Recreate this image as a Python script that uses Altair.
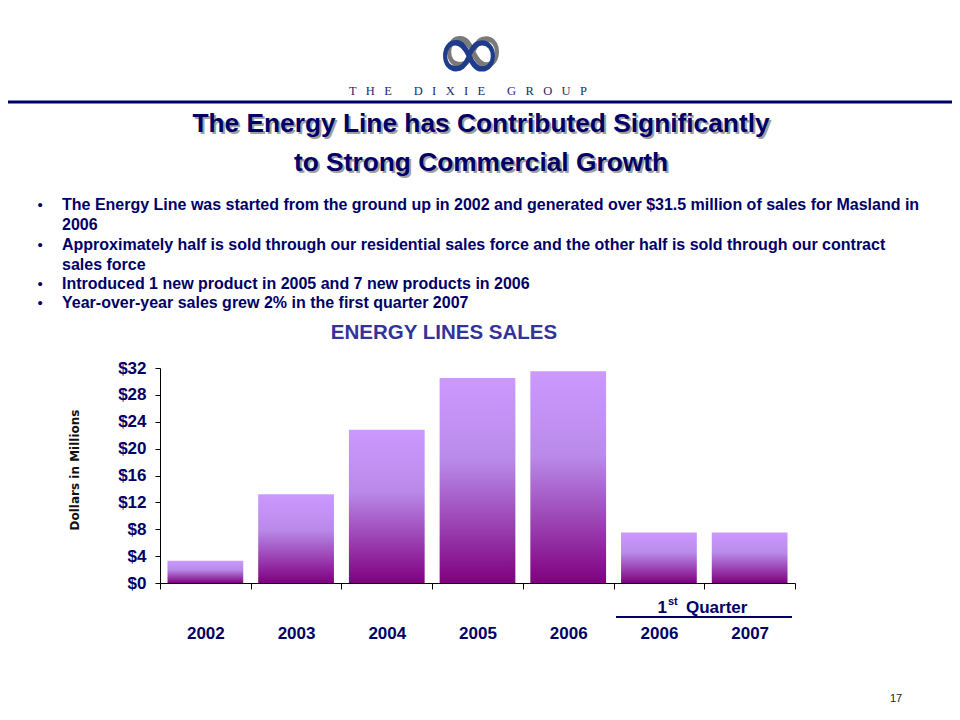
import altair as alt
import pandas as pd

# ---------------- data ----------------
categories = ["2002", "2003", "2004", "2005", "2006", "Q1 2006", "Q1 2007"]
sales = [3.3, 13.2, 22.8, 30.5, 31.5, 7.5, 7.5]
y_ticks = [0, 4, 8, 12, 16, 20, 24, 28, 32]

title_lines = ["The Energy Line has Contributed Significantly",
               "to Strong Commercial Growth"]
bullet_lines = [
    "The Energy Line was started from the ground up in 2002 and generated over $31.5 million of sales for Masland in",
    "2006",
    "Approximately half is sold through our residential sales force and the other half is sold through our contract",
    "sales force",
    "Introduced 1 new product in 2005 and 7 new products in 2006",
    "Year-over-year sales grew 2% in the first quarter 2007",
]
bullet_flags = [True, False, True, False, True, True]
chart_title = "ENERGY LINES SALES"
y_title = "Dollars in Millions"
company_letters = ["THE", "DIXIE", "GROUP"]
quarter_label = ["1", "st", "Quarter"]
page_number = "17"

df = pd.DataFrame({"category": categories, "sales": sales})

# ---------------- style ----------------
W, H = 635, 215
NAVY = "#000066"
FONT = "Liberation Sans"

gradient = alt.Gradient(
    gradient="linear",
    stops=[alt.GradientStop(color="#cc99ff", offset=0),
           alt.GradientStop(color="#b98aea", offset=0.4),
           alt.GradientStop(color="#800080", offset=1)],
    x1=0, x2=0, y1=0, y2=1,
)

bars = alt.Chart(df).mark_bar(color=gradient, width=alt.RelativeBandSize(0.835)).encode(
    x=alt.X("category:N", sort=categories,
            scale=alt.Scale(paddingInner=0, paddingOuter=0),
            axis=alt.Axis(title=None, labelExpr="replace(datum.label, 'Q1 ', '')",
                          labelAngle=0, tickBand="extent", tickSize=6, labelPadding=36,
                          labelFont=FONT, labelFontSize=17, labelFontWeight="bold",
                          labelColor=NAVY, domainColor="black", tickColor="black")),
    y=alt.Y("sales:Q", scale=alt.Scale(domain=[0, 32], nice=False),
            axis=alt.Axis(title=None, values=y_ticks, labelExpr="'$' + datum.value",
                          grid=False, tickSize=5, labelPadding=9,
                          labelFont=FONT, labelFontSize=17, labelFontWeight="bold",
                          labelColor=NAVY, domainColor="black", tickColor="black")),
)


def txt(text, x, y, size, color=NAVY, weight="normal", align="center", font=FONT, **kw):
    return alt.Chart(alt.Data(values=[{}])).mark_text(
        text=text, fontSize=size, color=color, fontWeight=weight, align=align,
        baseline="middle", font=font, **kw
    ).encode(x=alt.value(x), y=alt.value(y))


layers = [bars]

# logo
layers.append(txt("\u221e", 313, -316, 84, color="#7a7a7a", font="DejaVu Sans"))
layers.append(txt("\u221e", 309, -312, 84, color="#1f3c8c", font="DejaVu Sans"))
letter_gap = " \u2002"
word_gap = "\u2003\u2002 "
company = word_gap.join(letter_gap.join(list(w)) for w in company_letters)
layers.append(txt(company, 308, -277, 12.5, color="#1a2a6a", font="Liberation Serif"))
# navy rule
layers.append(alt.Chart(alt.Data(values=[{}])).mark_rule(color=NAVY, strokeWidth=3).encode(
    x=alt.value(-152), x2=alt.value(792), y=alt.value(-266)))

# title with shadow
for i, line in enumerate(title_lines):
    yy = -244 + 39 * i
    layers.append(txt(line, 323, yy + 2, 26.3, color="#a0a0a0", weight="bold"))
    layers.append(txt(line, 321, yy, 26.3, color=NAVY, weight="bold"))

# bullets
bullet_y = [-163, -143, -123, -103, -84, -65]
for line, flag, yy in zip(bullet_lines, bullet_flags, bullet_y):
    if flag:
        layers.append(txt("\u2022", -120, yy, 15, align="center"))
    layers.append(txt(line, -98, yy, 16, align="left", weight="bold"))

# chart title
layers.append(txt(chart_title, 284, -35, 20.5, color="#333399", weight="bold"))

# y title
layers.append(txt(y_title, -85, 102, 12, color="#111111", weight="bold",
                  font="DejaVu Sans", angle=270))

# 1st Quarter label + underline
layers.append(txt(quarter_label[0], 507, 240, 17, align="right", weight="bold"))
layers.append(txt(quarter_label[1], 508, 234, 11, align="left", weight="bold"))
layers.append(txt(quarter_label[2], 526, 240, 17, align="left", weight="bold"))
layers.append(alt.Chart(alt.Data(values=[{}])).mark_rule(color=NAVY, strokeWidth=2).encode(
    x=alt.value(456), x2=alt.value(632), y=alt.value(249)))

# page number
layers.append(txt(page_number, 736, 331, 11, color="#222222"))

chart = alt.layer(*layers).properties(
    width=W, height=H,
    autosize=alt.AutoSizeParams(type="none"),
    padding={"left": 152, "top": 360, "right": 157, "bottom": 129},
    background="white",
).configure_view(stroke=None)

chart.save("out.html", embed_options={"renderer": "svg", "actions": False})
